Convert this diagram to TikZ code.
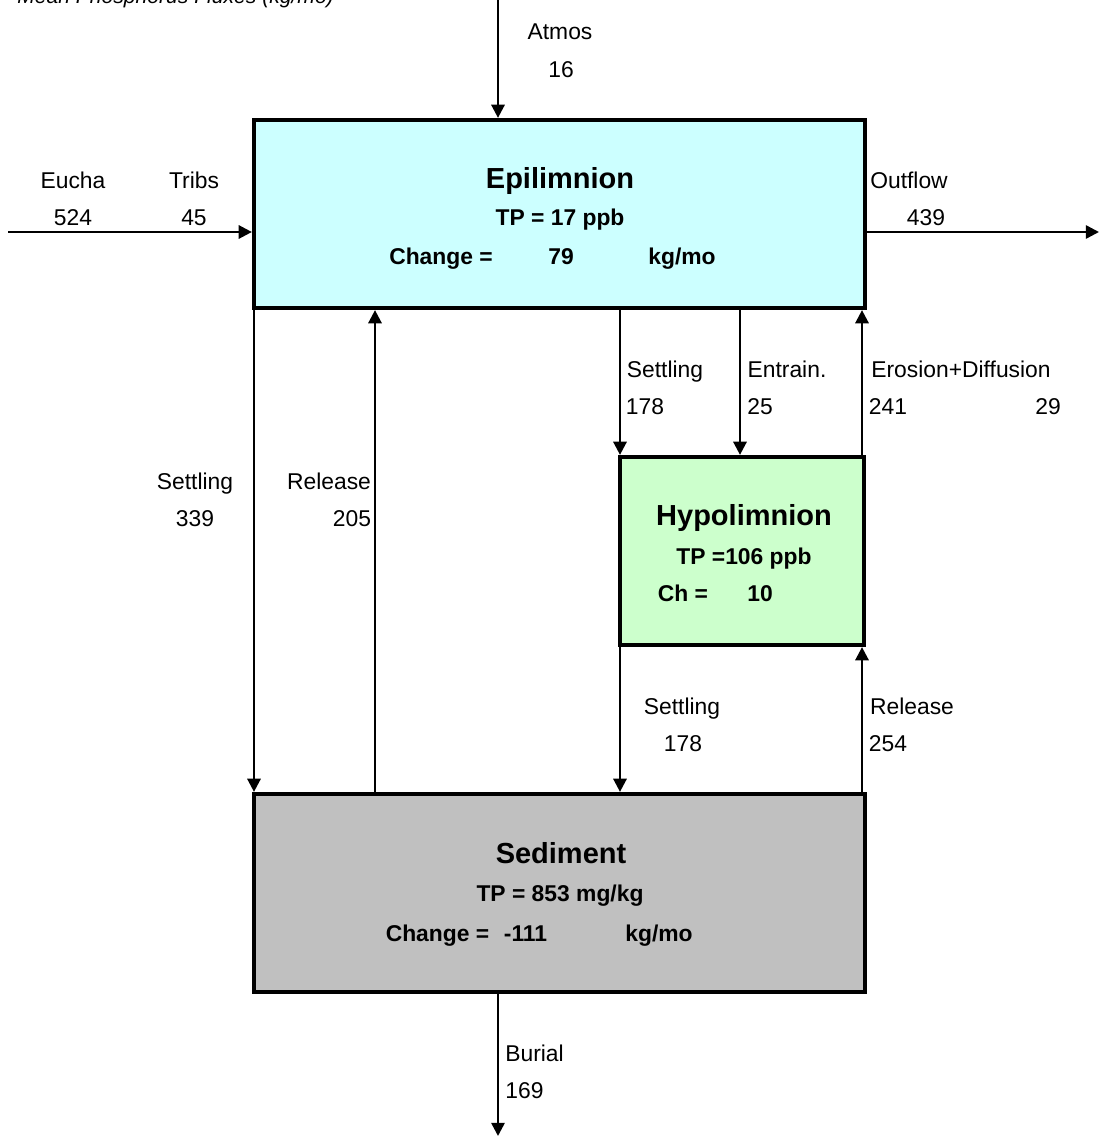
\documentclass[tikz,border=0pt]{standalone}
\usepackage{fontspec}
\setmainfont{Liberation Sans}
\usetikzlibrary{arrows.meta}
\definecolor{epiblue}{RGB}{204,255,255}
\definecolor{hypogreen}{RGB}{204,255,204}
\definecolor{sedgray}{RGB}{192,192,192}

\tikzset{
    lakebox/.style={draw, line width=2.4pt, inner sep=0pt},
    flux/.style={line width=1.4pt, -{Triangle[length=7.5pt, width=7.5pt]}},
    lbl/.style={anchor=base, inner sep=0pt, font=\fontsize{13}{15}\selectfont},
    boxtitle/.style={anchor=base, inner sep=0pt, font=\fontsize{16.5}{19}\selectfont\bfseries},
    boxtxt/.style={anchor=base, inner sep=0pt, font=\fontsize{13}{15}\selectfont\bfseries}
}

\begin{document}
\begin{tikzpicture}
    \useasboundingbox (0,0) rectangle (21.98,-22.72);

    % Title, cut off at the top edge
    \node[anchor=base west, inner sep=0pt, font=\fontsize{12}{14}\selectfont\itshape] (title) at (0.34,-0.08) {Mean Phosphorus Fluxes (kg/mo)};

    % Compartments
    \node[lakebox, fill=epiblue, minimum width=12.22cm, minimum height=3.76cm] (epi) at (11.19,-4.28) {};
    \node[lakebox, fill=hypogreen, minimum width=4.88cm, minimum height=3.76cm] (hypo) at (14.84,-11.02) {};
    \node[lakebox, fill=sedgray, minimum width=12.22cm, minimum height=3.96cm] (sed) at (11.19,-17.86) {};

    % Columns and free ends of the fluxes
    \coordinate (c1) at (5.08,0);
    \coordinate (c2) at (7.50,0);
    \coordinate (c3) at (12.40,0);
    \coordinate (c4) at (14.80,0);
    \coordinate (c5) at (17.24,0);
    \coordinate (atm) at (9.96,0);
    \coordinate (bur) at (9.96,-22.72);
    \coordinate (inl) at (0.16,-4.64);
    \coordinate (outl) at (21.98,-4.64);

    % Fluxes
    \draw[flux] (atm) -- (atm |- epi.north);
    \draw[flux] (inl) -- (inl -| epi.west);
    \draw[flux] (epi.east |- outl) -- (outl);
    \draw[flux] (c1 |- epi.south) -- (c1 |- sed.north);
    \draw[flux] (c2 |- sed.north) -- (c2 |- epi.south);
    \draw[flux] (c3 |- epi.south) -- (c3 |- hypo.north);
    \draw[flux] (c4 |- epi.south) -- (c4 |- hypo.north);
    \draw[flux] (c5 |- hypo.north) -- (c5 |- epi.south);
    \draw[flux] (c3 |- hypo.south) -- (c3 |- sed.north);
    \draw[flux] (c5 |- sed.north) -- (c5 |- hypo.south);
    \draw[flux] (atm |- sed.south) -- (bur);

    % Epilimnion text
    \node[boxtitle] (epiname) at (11.20,-3.76) {Epilimnion};
    \node[boxtxt] (epitp) at (11.20,-4.50) {TP = 17 ppb};
    \node[boxtxt] (epich) at (8.82,-5.28) {Change =};
    \node[boxtxt] (epichv) at (11.22,-5.28) {79};
    \node[boxtxt] (epichu) at (13.64,-5.28) {kg/mo};

    % Hypolimnion text
    \node[boxtitle] (hyponame) at (14.88,-10.50) {Hypolimnion};
    \node[boxtxt] (hypotp) at (14.88,-11.28) {TP =106 ppb};
    \node[boxtxt] (hypoch) at (13.66,-12.02) {Ch =};
    \node[boxtxt] (hypochv) at (15.20,-12.02) {10};

    % Sediment text
    \node[boxtitle] (sedname) at (11.22,-17.26) {Sediment};
    \node[boxtxt] (sedtp) at (11.20,-18.02) {TP = 853 mg/kg};
    \node[boxtxt] (sedch) at (8.75,-18.82) {Change =};
    \node[boxtxt] (sedchv) at (10.51,-18.82) {-111};
    \node[boxtxt] (sedchu) at (13.18,-18.82) {kg/mo};

    % Flux labels
    \node[lbl] (atmname) at (11.20,-0.80) {Atmos};
    \node[lbl] (atmval) at (11.22,-1.56) {16};
    \node[lbl] (euname) at (1.46,-3.76) {Eucha};
    \node[lbl] (euval) at (1.46,-4.50) {524};
    \node[lbl] (trname) at (3.88,-3.76) {Tribs};
    \node[lbl] (trval) at (3.88,-4.50) {45};
    \node[lbl] (outname) at (18.18,-3.76) {Outflow};
    \node[lbl] (outval) at (18.52,-4.50) {439};
    \node[lbl] (set1name) at (3.90,-9.78) {Settling};
    \node[lbl] (set1val) at (3.90,-10.52) {339};
    \node[lbl] (rel1name) at (6.58,-9.78) {Release};
    \node[lbl] (rel1val) at (7.04,-10.52) {205};
    \node[lbl] (set2name) at (13.30,-7.54) {Settling};
    \node[lbl] (set2val) at (12.90,-8.28) {178};
    \node[lbl] (entname) at (15.74,-7.54) {Entrain.};
    \node[lbl] (entval) at (15.20,-8.28) {25};
    \node[lbl] (eroname) at (19.22,-7.54) {Erosion+Diffusion};
    \node[lbl] (eroval) at (17.76,-8.28) {241};
    \node[lbl] (difval) at (20.96,-8.28) {29};
    \node[lbl] (set3name) at (13.64,-14.28) {Settling};
    \node[lbl] (set3val) at (13.66,-15.02) {178};
    \node[lbl] (rel2name) at (18.24,-14.28) {Release};
    \node[lbl] (rel2val) at (17.76,-15.02) {254};
    \node[lbl, anchor=base west] (burname) at (10.10,-21.22) {Burial};
    \node[lbl, anchor=base west] (burval) at (10.10,-21.96) {169};
\end{tikzpicture}
\end{document}
